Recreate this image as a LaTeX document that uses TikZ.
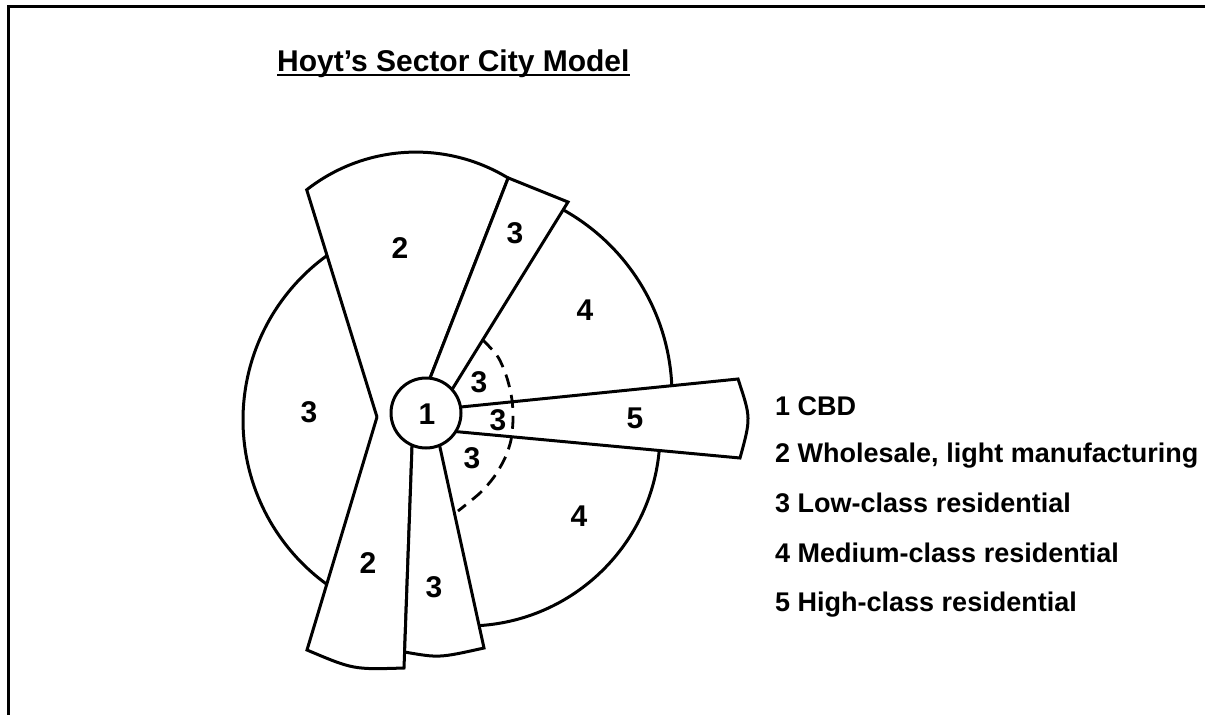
\documentclass[tikz,border=0pt]{standalone}
\usepackage{fontspec}
\setmainfont{Liberation Sans}
\tikzset{
  edge/.style={line width=3pt, line join=miter},
  lbl/.style={font=\fontsize{30}{32}\selectfont\bfseries, inner sep=0pt},
  leg/.style={font=\fontsize{27}{29}\selectfont\bfseries, anchor=base west, inner sep=0pt},
  dashline/.style={line width=2.8pt, dash pattern=on 13pt off 8pt},
}
\begin{document}
\begin{tikzpicture}[x=1pt,y=-1pt]
\useasboundingbox (0,0) rectangle (1205,715);
% frame
\draw[line width=3pt] (1205,6) -- (8,6) -- (8,715);
% coordinates
\coordinate (C) at (426,413);
\coordinate (P1) at (306.7,189.8);
\coordinate (P2) at (508.2,177.9);
\coordinate (Q) at (377,417);
\coordinate (E2) at (418,409);
\coordinate (R) at (568,202);
\coordinate (S1) at (440,409);
\coordinate (L1) at (307,650);
\coordinate (L2) at (404,668);
\coordinate (E3) at (413,420);
\coordinate (T1) at (404.6,652);
\coordinate (T2) at (484,648);
\coordinate (S2) at (434,420);
\coordinate (F1) at (440,409.1);
\coordinate (F2) at (738,379);
\coordinate (F3) at (740,458);
\coordinate (F4) at (440,430.1);
% big arcs (overshooting, hidden under wedges)
\draw[edge] ([shift={(236:203)}]446,420) arc[start angle=236, end angle=124, radius=203];
\draw[edge] ([shift={(-63:212)}]460,395) arc[start angle=-63, end angle=1, radius=212];
\draw[edge] ([shift={(3:193)}]467,433) arc[start angle=3, end angle=88, radius=193];
% upper 2 wedge
\fill[white] (Q) -- (P1) arc[start angle=-128.1, end angle=-58.6, radius=177] -- (E2) -- cycle;
\draw[edge] (Q) -- (P1) arc[start angle=-128.1, end angle=-58.6, radius=177] -- (E2);
% lower 2 wedge
\fill[white] (Q) -- (L1) .. controls (353.3,669.6) .. (L2) -- (E3) -- cycle;
\draw[edge] (Q) -- (L1) .. controls (353.3,669.6) .. (L2) -- (E3);
% upper strip 3
\filldraw[edge, fill=white] (E2) -- (P2) -- (R) -- (S1) -- cycle;
% lower strip 3
\filldraw[edge, fill=white] (E3) -- (T1) .. controls (439,658) .. (T2) -- (S2) -- cycle;
% wedge 5
\filldraw[edge, fill=white] (F1) -- (F2) .. controls (751,418) .. (F3) -- (F4) -- cycle;
% dashed ring
\draw[dashline] plot[smooth] coordinates {(483,340) (498,357) (507,378) (512,400) (513,420) (511,440) (505,458) (494,477) (480,493) (458,511)};
% CBD
\filldraw[edge, fill=white] (C) circle[radius=35];
% labels
\node[lbl] (c1) at (427,414) {1};
\node[lbl] (u2) at (400,248) {2};
\node[lbl] (u3) at (515,233) {3};
\node[lbl] (u4) at (585,310) {4};
\node[lbl] (l3) at (309,412) {3};
\node[lbl] (d3a) at (479,382) {3};
\node[lbl] (d3b) at (498,420) {3};
\node[lbl] (d3c) at (472,458) {3};
\node[lbl] (f5) at (635,418) {5};
\node[lbl] (b4) at (579,516) {4};
\node[lbl] (b2) at (368,563) {2};
\node[lbl] (b3) at (434,587) {3};
% legend
\node[leg] (g1) at (775,415) {1 CBD};
\node[leg] (g2) at (775,462) {2 Wholesale, light manufacturing};
\node[leg] (g3) at (775,512) {3 Low-class residential};
\node[leg] (g4) at (775,562) {4 Medium-class residential};
\node[leg] (g5) at (775,611) {5 High-class residential};
% title
\node[anchor=base west, inner sep=0pt, font=\fontsize{30}{32}\selectfont\bfseries] (title) at (277,71) {Hoyt’s Sector City Model};
\draw[line width=2.6pt] ([yshift=-4pt]title.base west) -- ([yshift=-4pt]title.base east);
\end{tikzpicture}
\end{document}
